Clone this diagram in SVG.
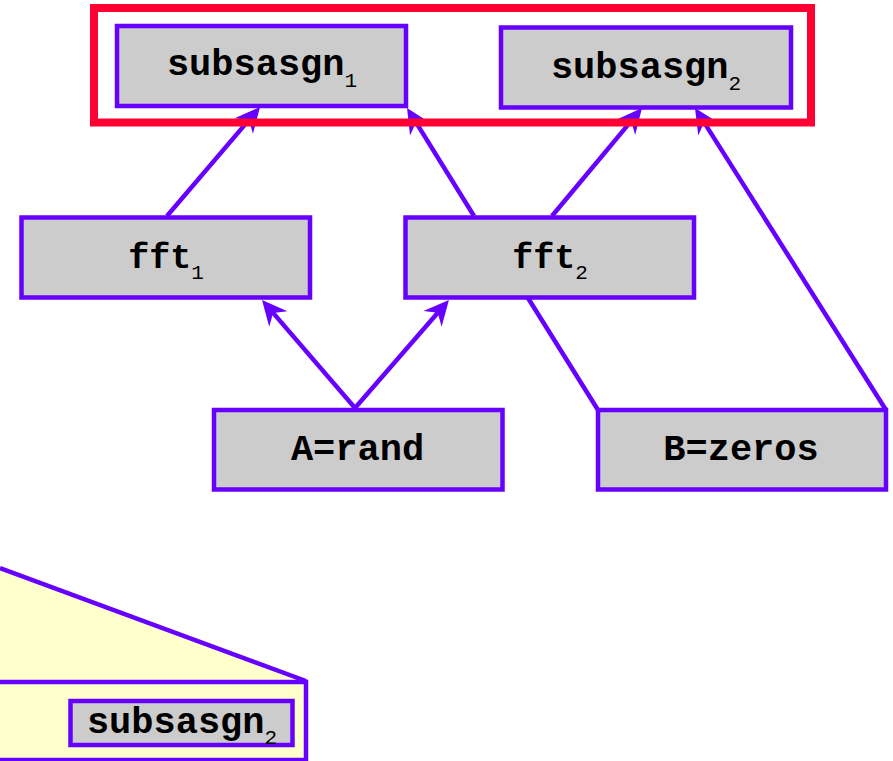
<svg xmlns="http://www.w3.org/2000/svg" width="893" height="761" viewBox="0 0 893 761">
  <style>
    .box { fill: #cccccc; stroke: #6600ff; stroke-width: 4.5; }
    .lbl { font-family: "Liberation Mono", "Courier New", monospace; font-weight: bold; font-size: 37px; fill: #000; text-anchor: middle; }
    .fft { font-size: 35px; }
    .sub { font-size: 21px; font-weight: normal; }
    .edge { stroke: #6600ff; stroke-width: 4.5; fill: none; }
    .arr { marker-end: url(#head); }
  </style>
  <defs>
    <marker id="head" markerUnits="userSpaceOnUse" markerWidth="40" markerHeight="40" viewBox="-10 -20 40 40" refX="0" refY="0" orient="auto">
      <path d="M17,0 L-8,-12 L0,0 L-8,12 Z" fill="#6600ff"/>
    </marker>
  </defs>

  <rect x="0" y="0" width="893" height="761" fill="#ffffff"/>

  <!-- zoomed inset at the bottom left -->
  <g id="inset">
    <polygon points="0,568 306,681 0,681" fill="#ffffcc"/>
    <line x1="0" y1="568" x2="306" y2="681" class="edge"/>
    <rect x="-10" y="682" width="316" height="78" fill="#ffffcc" stroke="#6600ff" stroke-width="4.5"/>
    <g id="inset-subsasgn2">
      <rect class="box" x="70.5" y="701" width="222" height="44"/>
      <text class="lbl" x="182" y="733">subsasgn<tspan class="sub" dy="11">2</tspan></text>
    </g>
  </g>

  <!-- connectors -->
  <g id="connectors">
    <line class="edge arr" x1="167" y1="216" x2="249" y2="119.9"/>
    <line class="edge arr" x1="474" y1="216" x2="416" y2="122.4"/>
    <line class="edge arr" x1="552" y1="216" x2="631.1" y2="121.1"/>
    <line class="edge arr" x1="886" y1="410" x2="704.1" y2="122.4"/>
    <line class="edge arr" x1="355" y1="408" x2="273.1" y2="312.9"/>
    <line class="edge arr" x1="355" y1="408" x2="437.8" y2="312.8"/>
    <line class="edge" x1="528" y1="298" x2="598" y2="410"/>
  </g>

  <g id="subsasgn1">
    <rect class="box" x="117" y="26" width="289" height="80"/>
    <text class="lbl" x="262" y="75">subsasgn<tspan class="sub" dy="12">1</tspan></text>
  </g>
  <g id="subsasgn2">
    <rect class="box" x="501" y="27.5" width="290" height="80"/>
    <text class="lbl" x="646" y="78">subsasgn<tspan class="sub" dy="12">2</tspan></text>
  </g>

  <!-- highlight around the subsasgn pair -->
  <rect id="highlight" x="94" y="8" width="717" height="114.5" fill="none" stroke="#ff0033" stroke-width="8"/>

  <g id="fft1">
    <rect class="box" x="21.5" y="217.5" width="288.5" height="80"/>
    <text class="lbl fft" x="166" y="268">fft<tspan class="sub" dy="11">1</tspan></text>
  </g>
  <g id="fft2">
    <rect class="box" x="405.5" y="217.5" width="288.5" height="80"/>
    <text class="lbl fft" x="550" y="268">fft<tspan class="sub" dy="11">2</tspan></text>
  </g>
  <g id="rand">
    <rect class="box" x="214" y="410" width="288.5" height="79.5"/>
    <text class="lbl" x="357.5" y="460">A=rand</text>
  </g>
  <g id="zeros">
    <rect class="box" x="598" y="410" width="288" height="79.5"/>
    <text class="lbl" x="741" y="460">B=zeros</text>
  </g>
</svg>
